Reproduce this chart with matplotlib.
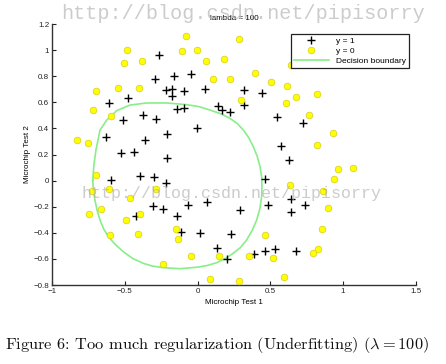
import numpy as np
import matplotlib
matplotlib.use('Agg')
import matplotlib.pyplot as plt

# Microchip test scores, accepted (y = 1)
pos_x = [0.051267, -0.092742, -0.21371, -0.375, -0.51325, -0.52477, -0.39804, -0.30588,
         0.016705, 0.13191, 0.38537, 0.52938, 0.63882, 0.73675, 0.54666, 0.322, 0.16647,
         -0.046659, -0.17339, -0.47869, -0.60541, -0.62846, -0.59389, -0.42108, -0.11578,
         0.20104, 0.46601, 0.67339, -0.13882, -0.29435, -0.26555, -0.16187, -0.17339,
         -0.28283, -0.36348, -0.30012, -0.23675, -0.06394, 0.062788, 0.22984, 0.2932,
         0.48329, 0.64459, 0.46025, 0.6273, 0.57546, 0.72523, 0.22408, 0.44297, 0.322,
         0.13767, -0.0063364, -0.092742, -0.20795, -0.20795, -0.43836, -0.21947, -0.13882]
pos_y = [0.69956, 0.68494, 0.69225, 0.50219, 0.46564, 0.2098, 0.034357, -0.19225,
         -0.40424, -0.51389, -0.56506, -0.5212, -0.24342, -0.18494, 0.48757, 0.5826, 0.53874,
         0.81652, 0.69956, 0.63377, 0.59722, 0.33406, 0.005117, -0.27266, -0.39693,
         -0.60161, -0.53582, -0.53582, 0.54605, 0.77997, 0.96272, 0.8019, 0.64839,
         0.47295, 0.31213, 0.027047, -0.21418, -0.18494, -0.16301, -0.41155, -0.2288,
         -0.18494, -0.14108, 0.012427, 0.15863, 0.26827, 0.44371, 0.52412, 0.67032, 0.69225,
         0.57529, 0.39985, 0.55336, 0.35599, 0.17325, 0.21711, -0.016813, -0.27266]

# Rejected (y = 0)
neg_x = [0.18376, 0.22408, 0.29896, 0.50634, 0.61578, 0.60426, 0.76555, 0.92684, 0.82316,
         0.96141, 0.93836, 0.86348, 0.89804, 0.85196, 0.82892, 0.79435, 0.59274, 0.51786,
         0.46601, 0.35081, 0.28744, 0.085829, 0.14919, -0.13306, -0.40956, -0.39228,
         -0.74366, -0.69758, -0.75518, -0.69758, -0.4038, -0.38076, -0.50749, -0.54781,
         0.10311, 0.057028, -0.10426, -0.081221, 0.28744, 0.39689, 0.63882, 0.82316,
         0.67339, 1.0709, -0.046659, -0.23675, -0.15035, -0.49021, -0.46717, -0.28859,
         -0.61118, -0.66302, -0.59965, -0.72638, -0.83007, -0.72062, -0.59389, -0.48445,
         -0.0063364, 0.63265]
neg_y = [0.93348, 0.77997, 0.61915, 0.75804, 0.7288, 0.59722, 0.50219, 0.3633, 0.27558,
         0.085526, 0.012427, -0.082602, -0.20687, -0.36769, -0.5212, -0.55775, -0.7405,
         -0.5943, -0.41886, -0.57968, -0.76974, -0.75512, -0.57968, -0.4481, -0.41155,
         -0.25804, -0.25804, 0.041667, 0.2902, 0.68494, 0.70687, 0.91886, 0.90424, 0.70687,
         0.77997, 0.91886, 0.99196, 1.1089, 1.087, 0.82383, 0.88962, 0.66301, 0.64108,
         0.10015, -0.57968, -0.63816, -0.36769, -0.3019, -0.13377, -0.060673, -0.067982,
         -0.21418, -0.41886, -0.082602, 0.31213, 0.53874, 0.49488, 0.99927, 0.99927,
         -0.030612]

# Decision boundary
bnd_x = [-0.720, -0.712, -0.698, -0.670, -0.624, -0.556, -0.464, -0.350, -0.212, -0.075,
         0.010, 0.085, 0.160, 0.223, 0.275, 0.314, 0.352, 0.383, 0.410, 0.429, 0.440,
         0.442, 0.440, 0.428, 0.406, 0.375, 0.337, 0.295, 0.245, 0.190, 0.131, 0.065,
         -0.006, -0.121, -0.236, -0.310, -0.373, -0.445, -0.510, -0.565, -0.613, -0.645,
         -0.670, -0.690, -0.705, -0.716, -0.720]
bnd_y = [0.005, 0.120, 0.234, 0.388, 0.464, 0.536, 0.579, 0.595, 0.595, 0.582,
         0.567, 0.541, 0.512, 0.477, 0.435, 0.388, 0.328, 0.260, 0.185, 0.107, 0.030,
         -0.047, -0.123, -0.215, -0.302, -0.382, -0.455, -0.512, -0.557, -0.597, -0.629, -0.651,
         -0.664, -0.675, -0.667, -0.655, -0.634, -0.597, -0.545, -0.490, -0.430, -0.370,
         -0.302, -0.228, -0.149, -0.072, 0.005]

x_ticks = [-1, -0.5, 0, 0.5, 1, 1.5]
y_ticks = [-0.8, -0.6, -0.4, -0.2, 0, 0.2, 0.4, 0.6, 0.8, 1, 1.2]

plt.rcParams['font.family'] = ['Liberation Sans', 'DejaVu Sans']
plt.rcParams['mathtext.fontset'] = 'cm'

fig = plt.figure(figsize=(4.46, 3.64), dpi=100)
ax = fig.add_axes([0.1166, 0.217, 0.816, 0.717])

ax.plot(pos_x, pos_y, 'k+', markersize=6, markeredgewidth=1.0, label='y = 1', zorder=3)
ax.plot(neg_x, neg_y, 'o', markersize=4.8, markerfacecolor='#ffff00',
        markeredgecolor='#d4cc20', markeredgewidth=0.5, label='y = 0', zorder=3)
ax.plot(bnd_x, bnd_y, '-', color='#88ee88', linewidth=1.2, label='Decision boundary', zorder=2)

ax.set_xlim(-1, 1.5)
ax.set_ylim(-0.8, 1.2)
ax.set_xticks(x_ticks)
ax.set_yticks(y_ticks)
ax.set_xticklabels(['\u22121', '\u22120.5', '0', '0.5', '1', '1.5'])
ax.set_yticklabels(['\u22120.8', '\u22120.6', '\u22120.4', '\u22120.2', '0', '0.2',
                    '0.4', '0.6', '0.8', '1', '1.2'])
ax.tick_params(direction='in', length=3, width=0.8, labelsize=5.8, pad=2, colors='#222222')
for side in ['top', 'right']:
    ax.spines[side].set_visible(False)
for side in ['left', 'bottom']:
    ax.spines[side].set_linewidth(1.0)
    ax.spines[side].set_color('#333333')

ax.set_title('lambda = 100', fontsize=5.8, pad=3)
ax.set_xlabel('Microchip Test 1', fontsize=5.8, labelpad=3)
ax.set_ylabel('Microchip Test 2', fontsize=5.8, labelpad=2)

leg = ax.legend(loc='upper right', fontsize=6, fancybox=False, edgecolor='#222222',
                framealpha=1, borderpad=0.4, handlelength=4.2, labelspacing=0.25,
                bbox_to_anchor=(0.992, 0.978))
leg.get_frame().set_linewidth(0.9)

# watermarks
fig.text(0.545, 0.962, 'http://blog.csdn.net/pipisorry', fontsize=14.5,
         family='Liberation Mono', color='#bbbbbb', alpha=0.75, ha='center', va='center')
fig.text(0.52, 0.468, 'http://blog.csdn.net/pipisorry', fontsize=12,
         family='Liberation Mono', color='#aaaaaa', alpha=0.6, ha='center', va='center',
         zorder=10)

fig.text(0.011, 0.052,
         'Figure 6: Too much regularization (Underfitting) ($\\lambda = 100$)',
         fontsize=11.8, family='cmr10', ha='left', va='center', color='#111111')

fig.savefig('out.png', dpi=100)
